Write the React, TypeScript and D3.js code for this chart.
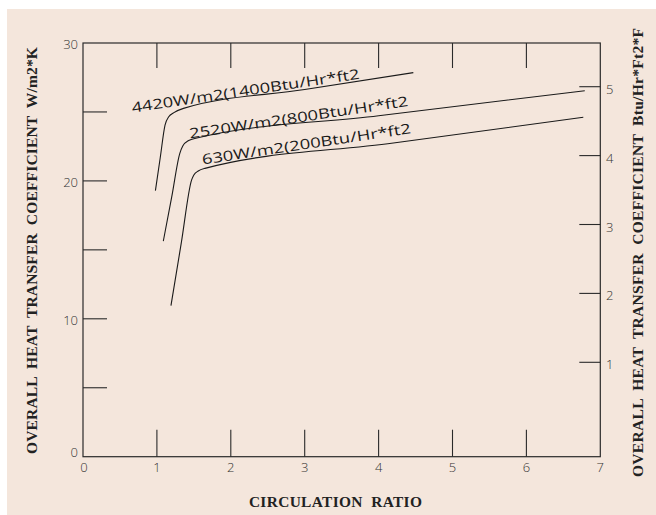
import React from "react";
import * as d3 from "d3";

// ---- data ----
const xTicks = [0, 1, 2, 3, 4, 5, 6, 7];
const leftTicks = [5, 10, 15, 20, 25];
const leftLabels = [0, 10, 20, 30];
const rightTicks = [1, 2, 3, 4, 5];

const seriesNames = [
  "4420W/m2(1400Btu/Hr*ft2",
  "2520W/m2(800Btu/Hr*ft2",
  "630W/m2(200Btu/Hr*ft2",
];

const ratio4420 = [0.98, 1.045, 1.11, 1.16, 1.23, 1.36, 3.0, 4.47];
const coef4420 = [19.3, 21.68, 24.05, 24.65, 24.95, 25.26, 26.63, 27.85];

const ratio2520 = [1.087, 1.2, 1.31, 1.35, 1.43, 1.54, 4.0, 6.79];
const coef2520 = [15.64, 18.82, 22.0, 22.53, 22.93, 23.11, 24.72, 26.54];

const ratio630 = [1.19, 1.33, 1.47, 1.5, 1.56, 1.65, 4.2, 6.77];
const coef630 = [10.95, 15.5, 20.07, 20.43, 20.72, 20.91, 22.75, 24.61];

const xTitle = "CIRCULATION  RATIO";
const yTitleLeft = "OVERALL  HEAT  TRANSFER  COEFFICIENT  W/m2*K";
const yTitleRight = "OVERALL  HEAT  TRANSFER  COEFFICIENT  Btu/Hr*Ft2*F";

export default function App() {
  const W = 656,
    H = 515;
  const left = 83,
    right = 600.3,
    top = 43,
    bottom = 456.7;

  const x = d3.scaleLinear().domain([0, 7]).range([left, right]);
  const y = d3.scaleLinear().domain([0, 30]).range([bottom, top]);
  const yR = d3.scaleLinear().domain([1, 5]).range([362.3, 86.7]);

  const line = d3
    .line<[number, number]>()
    .x((d) => x(d[0]))
    .y((d) => y(d[1]))
    .curve(d3.curveMonotoneX);

  const series = [
    { name: seriesNames[0], xs: ratio4420, ys: coef4420, lx: 0.67, ly: 24.95, len: 230 },
    { name: seriesNames[1], xs: ratio2520, ys: coef2520, lx: 1.448, ly: 23.07, len: 221 },
    { name: seriesNames[2], xs: ratio630, ys: coef630, lx: 1.62, ly: 21.19, len: 211 },
  ];

  const ink = "#2a2a2a";
  const sans = "'Open Sans', 'DejaVu Sans', sans-serif";
  const serif = "'Liberation Serif', 'Times New Roman', serif";
  const pre = { whiteSpace: "pre" as const };

  return (
    <svg
      width={W}
      height={H}
      style={{ position: "absolute", left: 0, top: 0, background: "#ffffff" }}
    >
      <rect x={7} y={9} width={W - 7} height={H - 9} fill="#f4e6dc" />

      {/* frame */}
      <rect
        x={left}
        y={top}
        width={right - left}
        height={bottom - top}
        fill="none"
        stroke={ink}
        strokeWidth={1.2}
      />

      {/* top and bottom ticks */}
      {xTicks
        .filter((t) => t > 0 && t < 7)
        .map((t) => (
          <g key={"xt" + t}>
            <line x1={x(t)} x2={x(t)} y1={top} y2={top + 25} stroke={ink} strokeWidth={1.1} />
            <line x1={x(t)} x2={x(t)} y1={bottom} y2={bottom - 27} stroke={ink} strokeWidth={1.1} />
          </g>
        ))}
      {xTicks.map((t) => (
        <text
          key={"xl" + t}
          x={x(t) + (t === 0 ? 1 : 0)}
          y={472}
          textAnchor="middle"
          fontFamily={sans}
          fontWeight={300}
          fontSize={13}
          fill="#333"
        >
          {t}
        </text>
      ))}

      {/* left ticks */}
      {leftTicks.map((t) => (
        <line key={"lt" + t} x1={left} x2={left + 24} y1={y(t)} y2={y(t)} stroke={ink} strokeWidth={1.1} />
      ))}
      {leftLabels.map((t) => (
        <text
          key={"ll" + t}
          x={78}
          y={y(t) + (t === 0 ? 0 : 6)}
          textAnchor="end"
          fontFamily={sans}
          fontWeight={300}
          fontSize={13}
          fill="#333"
        >
          {t}
        </text>
      ))}

      {/* right ticks */}
      {rightTicks.map((t) => (
        <g key={"rt" + t}>
          <line x1={right} x2={right - 21} y1={yR(t)} y2={yR(t)} stroke={ink} strokeWidth={1.1} />
          <text x={606} y={yR(t) + 7} fontFamily={sans} fontWeight={300} fontSize={13} fill="#333">
            {t}
          </text>
        </g>
      ))}

      {/* curves */}
      {series.map((s) => {
        const pts = s.xs.map((v, i) => [v, s.ys[i]] as [number, number]);
        return (
          <g key={s.name}>
            <path d={line(pts) || ""} fill="none" stroke="#1a1a1a" strokeWidth={1.1} />
            <text
              transform={`translate(${x(s.lx)},${y(s.ly)}) rotate(-8.5)`}
              fontFamily={sans}
              fontWeight={400}
              fontSize={14}
              fill="#1a1a1a"
              textLength={s.len}
              lengthAdjust="spacingAndGlyphs"
            >
              {s.name}
            </text>
          </g>
        );
      })}

      {/* titles */}
      <text
        x={335.4}
        y={507}
        textAnchor="middle"
        fontFamily={serif}
        fontWeight="bold"
        fontSize={15.4}
        fill="#222"
        textLength={173}
        lengthAdjust="spacing"
        style={pre}
      >
        {xTitle}
      </text>
      <text
        transform="translate(37,250.5) rotate(-90)"
        textAnchor="middle"
        fontFamily={serif}
        fontWeight="bold"
        fontSize={15.6}
        fill="#222"
        textLength={407}
        lengthAdjust="spacing"
        style={pre}
      >
        {yTitleLeft}
      </text>
      <text
        transform="translate(643,252.5) rotate(-90)"
        textAnchor="middle"
        fontFamily={serif}
        fontWeight="bold"
        fontSize={15.6}
        fill="#222"
        textLength={449}
        lengthAdjust="spacing"
        style={pre}
      >
        {yTitleRight}
      </text>
    </svg>
  );
}
